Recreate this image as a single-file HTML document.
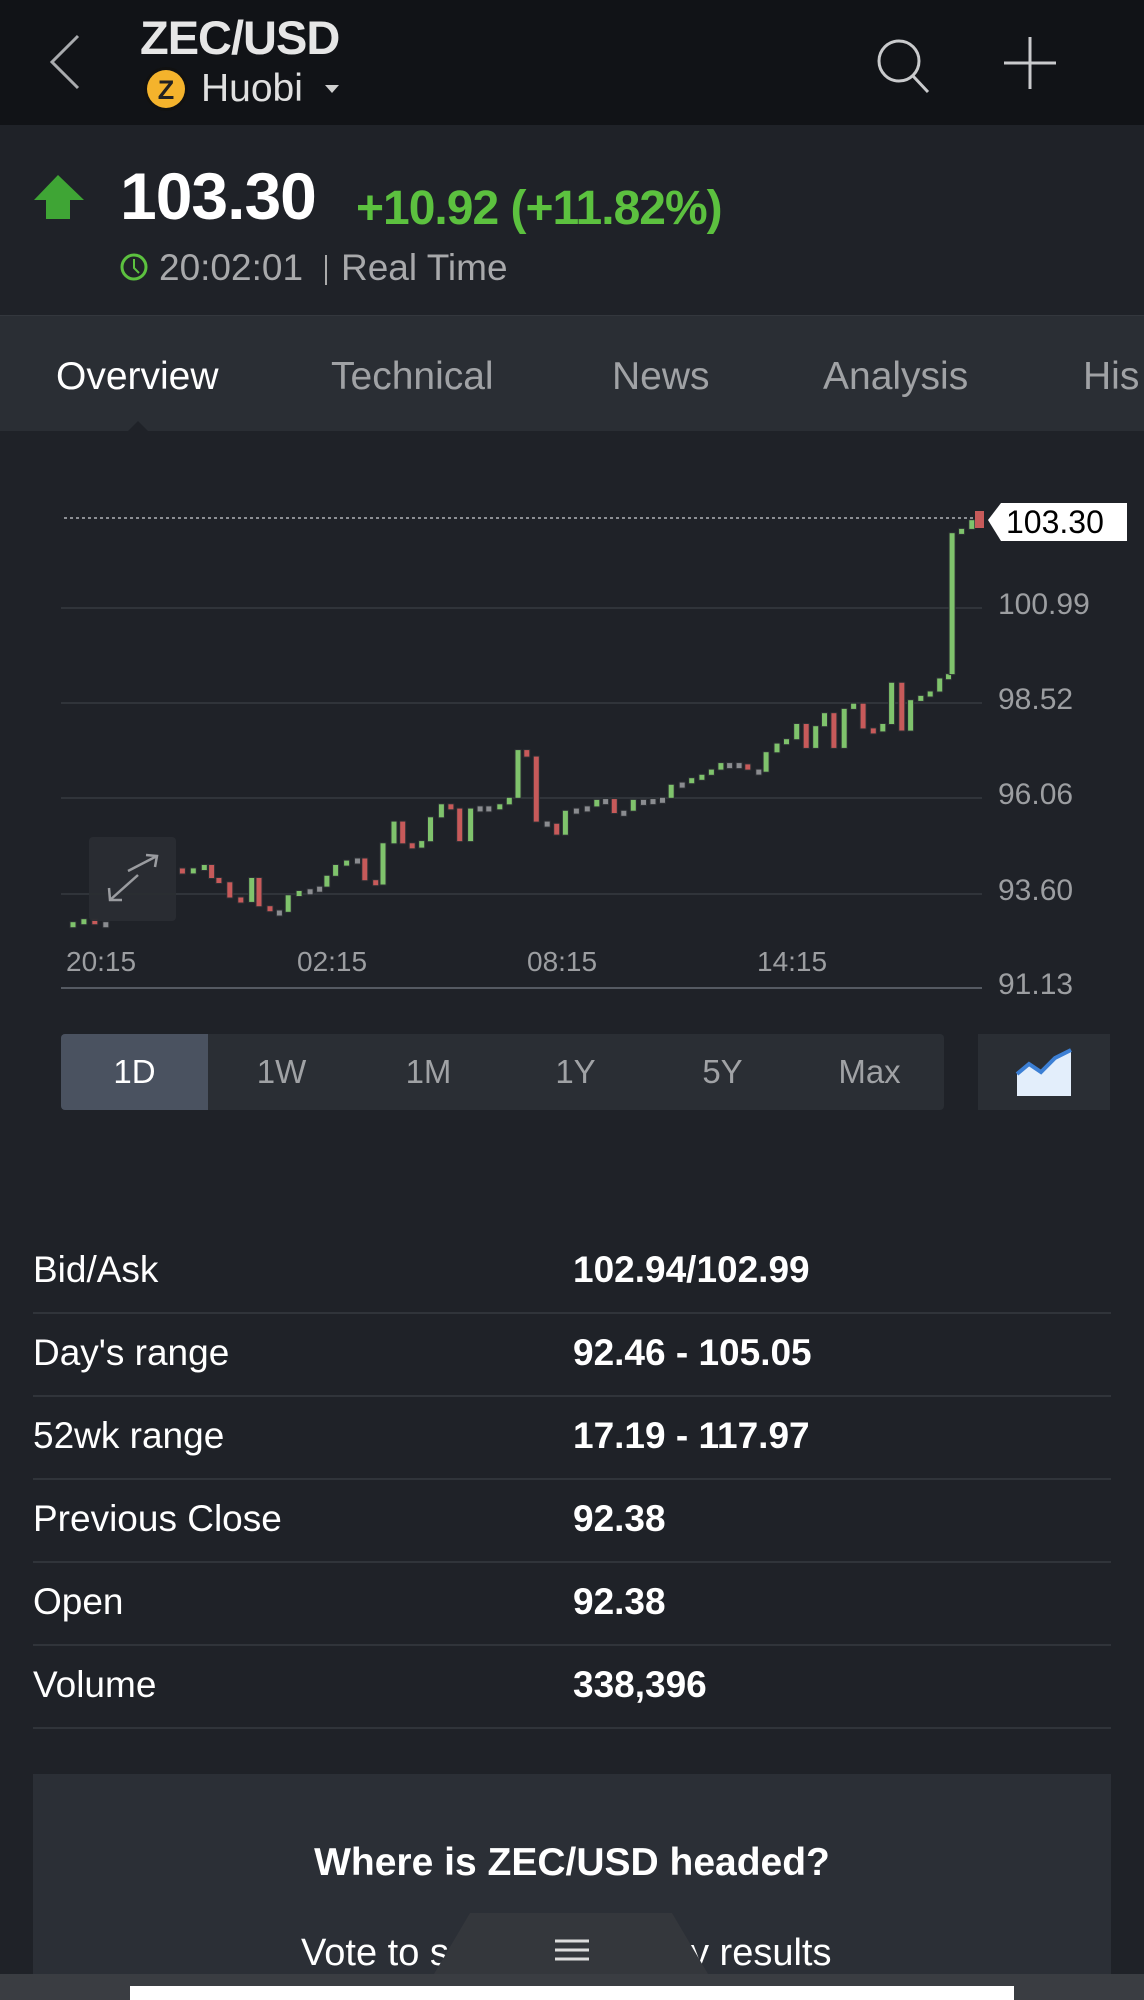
<!DOCTYPE html>
<html><head><meta charset="utf-8">
<style>
*{margin:0;padding:0;box-sizing:border-box}
body{width:1144px;height:2000px;overflow:hidden;background:#1f2228;font-family:"Liberation Sans",sans-serif;position:relative;color:#fff}
.a{position:absolute;white-space:nowrap}
</style></head><body>
<div class="a" style="left:0;top:0;width:1144px;height:125px;background:#111317"></div>
<div class="a" style="left:0;top:316px;width:1144px;height:115px;background:#2a2e34"></div>
<div class="a" style="left:0;top:315px;width:1144px;height:1px;background:#33373d"></div>

<svg class="a" style="left:0;top:0" width="1144" height="2000">
<polyline points="78,36 52,62 78,88" fill="none" stroke="#a9abae" stroke-width="3"/>
<circle cx="899" cy="61" r="20" fill="none" stroke="#c9cacc" stroke-width="3"/>
<line x1="913" y1="76" x2="928" y2="92" stroke="#c9cacc" stroke-width="3"/>
<line x1="1030" y1="37" x2="1030" y2="89" stroke="#c9cacc" stroke-width="3"/>
<line x1="1004" y1="63" x2="1056" y2="63" stroke="#c9cacc" stroke-width="3"/>
<circle cx="166" cy="89" r="22" fill="#111"/>
<circle cx="166" cy="89" r="19" fill="#f4b32c"/>
<text x="166" y="99" font-size="27" font-weight="bold" text-anchor="middle" fill="#222" font-family="Liberation Sans">Z</text>
<polygon points="325,85 339,85 332,93" fill="#d0d0d0"/>
<polygon points="58,175 34,200 46,200 46,219 70,219 70,200 84,200" fill="#3fa535"/>
<circle cx="134" cy="267" r="12" fill="none" stroke="#5cc13f" stroke-width="3"/>
<polyline points="134,259 134,268 139,273" fill="none" stroke="#5cc13f" stroke-width="2"/>
<line x1="326" y1="255" x2="326" y2="285" stroke="#aaa" stroke-width="2"/>
<polygon points="128,431 138,421 148,431" fill="#1f2228"/>
<g stroke="#363a41" stroke-width="1.5">
<line x1="61" y1="608" x2="982" y2="608"/>
<line x1="61" y1="703" x2="982" y2="703"/>
<line x1="61" y1="798" x2="982" y2="798"/>
<line x1="61" y1="894" x2="982" y2="894"/>
</g>
<line x1="61" y1="988" x2="982" y2="988" stroke="#555a62" stroke-width="2"/>
<line x1="64" y1="518" x2="982" y2="518" stroke="#8c8f94" stroke-width="2" stroke-dasharray="3,3"/>
<g id="c"></g>
<rect x="89" y="837" width="87" height="84" rx="4" fill="#2a2d33" opacity="0.95"/>
<g stroke="#9a9ca0" stroke-width="2.5" fill="none">
<line x1="128" y1="871" x2="157" y2="856"/><polyline points="146,855 157,856 155,867"/>
<line x1="138" y1="875" x2="110" y2="900"/><polyline points="109,888 110,900 122,900"/>
</g>
<polygon points="988,520 1001,503 1127,503 1127,541 1001,541" fill="#fff"/>
<polygon points="975,511 984,511 984,528 975,528" fill="#c75a5a"/>
</svg>

<div class="a" style="left:140px;top:10px;font-size:47px;font-weight:bold;color:#e6e6e6;letter-spacing:-1px">ZEC/USD</div>
<div class="a" style="left:201px;top:67px;font-size:39px;color:#e0e0e0">Huobi</div>
<div class="a" style="left:120px;top:158px;font-size:66px;font-weight:bold;letter-spacing:-1px">103.30</div>
<div class="a" style="left:356px;top:181px;font-size:48px;font-weight:bold;color:#5cc13f;letter-spacing:-1px">+10.92 (+11.82%)</div>
<div class="a" style="left:159px;top:247px;font-size:37px;color:#a8a9ab">20:02:01</div>
<div class="a" style="left:341px;top:247px;font-size:37px;color:#a8a9ab">Real Time</div>
<div class="a" style="left:56px;top:355px;font-size:39px;color:#fff">Overview</div>
<div class="a" style="left:331px;top:355px;font-size:39px;color:#a0a2a5">Technical</div>
<div class="a" style="left:612px;top:355px;font-size:39px;color:#a0a2a5">News</div>
<div class="a" style="left:823px;top:355px;font-size:39px;color:#a0a2a5">Analysis</div>
<div class="a" style="left:1083px;top:355px;font-size:39px;color:#a0a2a5">His</div>

<div class="a" style="left:1006px;top:504px;font-size:32px;color:#000">103.30</div>
<div class="a" style="left:998px;top:588px;font-size:30px;color:#9c9ea1">100.99</div>
<div class="a" style="left:998px;top:683px;font-size:30px;color:#9c9ea1">98.52</div>
<div class="a" style="left:998px;top:778px;font-size:30px;color:#9c9ea1">96.06</div>
<div class="a" style="left:998px;top:874px;font-size:30px;color:#9c9ea1">93.60</div>
<div class="a" style="left:998px;top:968px;font-size:30px;color:#9c9ea1">91.13</div>
<div class="a" style="left:66px;top:946px;font-size:28px;color:#9c9ea1">20:15</div>
<div class="a" style="left:297px;top:946px;font-size:28px;color:#9c9ea1">02:15</div>
<div class="a" style="left:527px;top:946px;font-size:28px;color:#9c9ea1">08:15</div>
<div class="a" style="left:757px;top:946px;font-size:28px;color:#9c9ea1">14:15</div>

<div class="a" style="left:61px;top:1034px;width:883px;height:76px;background:#2a2e34;border-radius:4px"></div>
<div class="a" style="left:61px;top:1034px;width:147px;height:76px;background:#4a5260;border-radius:4px 0 0 4px"></div>
<div class="a" style="left:978px;top:1034px;width:132px;height:76px;background:#2a2e34"></div>
<svg class="a" style="left:1015px;top:1048px" width="58" height="50"><polygon points="2,26 14,16 26,24 40,10 56,2 56,48 2,48" fill="#e3eefb"/><polyline points="2,26 14,16 26,24 40,10 56,2" fill="none" stroke="#3c7fd4" stroke-width="4"/></svg>
<div class="a" style="left:61px;top:1053px;width:147px;text-align:center;font-size:33px;color:#fff">1D</div>
<div class="a" style="left:208px;top:1053px;width:147px;text-align:center;font-size:33px;color:#a0a2a5">1W</div>
<div class="a" style="left:355px;top:1053px;width:147px;text-align:center;font-size:33px;color:#a0a2a5">1M</div>
<div class="a" style="left:502px;top:1053px;width:147px;text-align:center;font-size:33px;color:#a0a2a5">1Y</div>
<div class="a" style="left:649px;top:1053px;width:147px;text-align:center;font-size:33px;color:#a0a2a5">5Y</div>
<div class="a" style="left:796px;top:1053px;width:147px;text-align:center;font-size:33px;color:#a0a2a5">Max</div>

<div id="rows"></div>

<div class="a" style="left:33px;top:1774px;width:1078px;height:226px;background:#2b2f36"></div>
<div class="a" style="left:33px;top:1841px;width:1078px;text-align:center;font-size:39px;font-weight:bold">Where is ZEC/USD headed?</div>
<div class="a" style="left:301px;top:1932px;font-size:38px">Vote to s</div>
<div class="a" style="left:690px;top:1932px;font-size:38px">y results</div>
<svg class="a" style="left:0;top:0;pointer-events:none" width="1144" height="2000"><polygon points="434,1974 470,1913 672,1913 708,1974" fill="#34373c"/><rect x="0" y="1974" width="1144" height="26" fill="#3a3d42"/><rect x="130" y="1986" width="884" height="14" fill="#fff"/><g stroke="#ddd" stroke-width="3"><line x1="555" y1="1941" x2="589" y2="1941"/><line x1="555" y1="1950" x2="589" y2="1950"/><line x1="555" y1="1959" x2="589" y2="1959"/></g></svg>

<script>
var rows=[["Bid/Ask","102.94/102.99"],["Day's range","92.46 - 105.05"],["52wk range","17.19 - 117.97"],["Previous Close","92.38"],["Open","92.38"],["Volume","338,396"]];
var h="";
for(var i=0;i<rows.length;i++){var y=1249+i*83;
h+='<div class="a" style="left:33px;top:'+y+'px;font-size:37px;color:#fff">'+rows[i][0]+'</div>';
h+='<div class="a" style="left:573px;top:'+y+'px;font-size:37px;font-weight:bold;color:#fff">'+rows[i][1]+'</div>';
h+='<div class="a" style="left:33px;top:'+(1312+i*83)+'px;width:1078px;height:2px;background:#30343a"></div>';}
document.getElementById("rows").innerHTML=h;
var p=[[85,1120],[100,1112],[115,1105],[130,1112],[145,1118],[250,995],[265,988],[280,980],[290,1010],[300,1020],[315,1055],[330,1065],[345,1010],[355,1075],[370,1085],[383,1088],[395,1050],[410,1040],[425,1036],[438,1030],[448,1005],[460,980],[475,970],[490,965],[500,1015],[515,1025],[525,930],[540,880],[552,930],[565,940],[578,925],[590,870],[605,840],[618,850],[630,925],[645,850],[658,845],[670,850],[685,840],[698,825],[710,715],[722,730],[735,880],[750,885],[763,910],[775,855],[790,850],[805,845],[818,830],[830,828],[842,860],[855,855],[868,830],[882,830],[895,828],[908,825],[920,795],[935,790],[948,780],[962,772],[975,760],[988,745],[1000,745],[1013,748],[1025,760],[1040,765],[1050,720],[1065,700],[1078,690],[1092,655],[1105,710],[1118,660],[1130,630],[1143,710],[1157,620],[1170,608],[1183,665],[1197,672],[1210,655],[1222,560],[1236,670],[1248,600],[1262,590],[1275,580],[1288,550],[1300,540],[1305,215],[1318,205],[1332,185]];
var s="";
for(var i=1;i<p.length;i++){var x=p[i][0]/1.3706,o=440+p[i-1][1]/2.306,c=440+p[i][1]/2.306;
if(p[i][0]-p[i-1][0]>50)o=c-3;
var d=Math.abs(c-o),col=d<3?"#8a8c90":(c<o?"#7fc36c":"#c75a5a");
var t=Math.min(o,c),hh=Math.max(d,5);
s+='<rect x="'+(x-3.5).toFixed(1)+'" y="'+(t-1).toFixed(1)+'" width="7" height="'+(hh+2).toFixed(1)+'" fill="#2c2f34"/>';
s+='<rect x="'+(x-2.5).toFixed(1)+'" y="'+t.toFixed(1)+'" width="5" height="'+hh.toFixed(1)+'" fill="'+col+'"/>';}
document.getElementById("c").innerHTML=s;
</script>
</body></html>
